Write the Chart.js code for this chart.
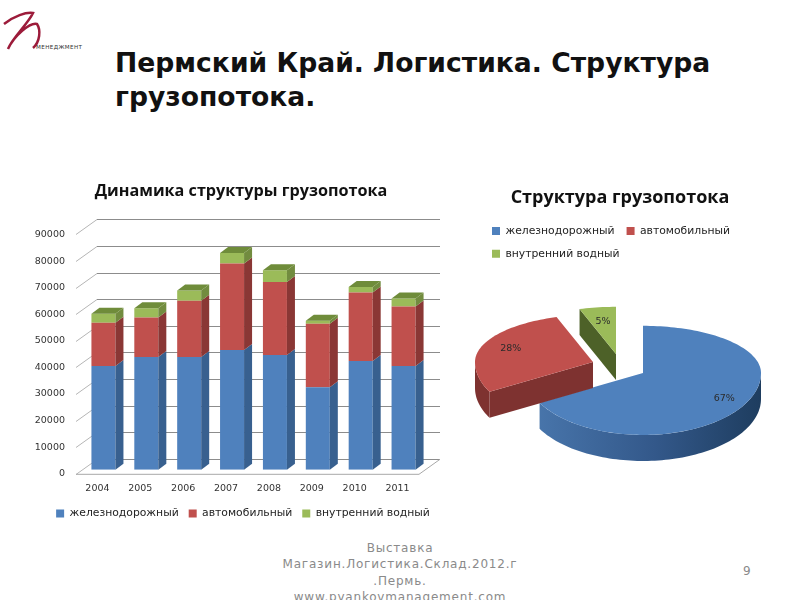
<!DOCTYPE html>
<html lang="ru">
<head>
<meta charset="utf-8">
<title>Пермский Край. Логистика</title>
<script src="https://cdn.jsdelivr.net/npm/chart.js@4"></script>
<style>
    html, body { margin: 0; padding: 0; background: #fff; }
    body { position: relative; width: 800px; height: 600px; overflow: hidden; font-family: 'DejaVu Sans', sans-serif; }
    h1 { position: absolute; left: 115px; top: 46px; margin: 0; font-size: 26.6px; line-height: 34px; font-weight: bold; color: #111; white-space: nowrap; }
    #logo { position: absolute; left: 0; top: 0; }
    #footer { position: absolute; left: 250px; width: 300px; top: 540px; text-align: center; font-size: 12px; line-height: 16.3px; color: #8a8a8a; letter-spacing: 0.8px; }
    #pageNo { position: absolute; left: 743px; top: 564px; font-size: 12px; color: #8a8a8a; }
    #barBox { position: absolute; left: 0; top: 170px; width: 482px; height: 356px; }
    #pieBox { position: absolute; left: 470px; top: 170px; width: 300px; height: 300px; }
</style>
</head>
<body>
<svg id="logo" width="90" height="60">
    <path d="M4 24 C14 16 26 12 33 13 C28 24 12 38 8 49 C14 36 30 22 37 24 C41 30 40 42 33 48" fill="none" stroke="#9c1b3a" stroke-width="2.5"/>
    <text x="36" y="49" font-size="5.6" textLength="46" fill="#333">МЕНЕДЖМЕНТ</text>
</svg>
<h1>Пермский Край. Логистика. Структура<br>грузопотока.</h1>
<div id="barBox"><canvas id="barChart"></canvas></div>
<div id="pieBox"><canvas id="pieChart"></canvas></div>
<div id="footer">Выставка<br>Магазин.Логистика.Склад.2012.г<br>.Пермь.<br>www.pyankovmanagement.com</div>
<div id="pageNo">9</div>
<script>
const years = ['2004', '2005', '2006', '2007', '2008', '2009', '2010', '2011'];
const railValues = [39000, 42400, 42400, 45000, 43200, 31000, 40900, 39000];
const roadValues = [16300, 14900, 21200, 32600, 27400, 23900, 25800, 22400];
const waterValues = [3400, 3400, 3800, 3900, 4400, 1100, 2000, 3000];
const modeNames = ['железнодорожный', 'автомобильный', 'внутренний водный'];
const pieValues = [67, 28, 5];

const frontColors = ['#4F81BD', '#C0504D', '#9BBB59'];
const sideColors = ['#38608F', '#8A3735', '#728C3F'];
const topColors = ['#4F81BD', '#C0504D', '#6F8C3A'];

const chartFont = "'DejaVu Sans', sans-serif";
const titleFont = "'Open Sans', sans-serif";

// --- fake 3D for the stacked bars ---
const wall3d = {
    id: 'wall3d',
    // title and legend centre on the whole canvas, not on the padded area
    afterLayout(chart) {
        chart.titleBlock.left = 0;
        chart.titleBlock.right = chart.width;
        chart.legend.left = 0;
        chart.legend.right = chart.width + 4;
        chart.legend.top += 3;
        chart.legend.bottom += 3;
    },
    beforeDatasetsDraw(chart) {
        const { ctx, chartArea, scales } = chart;
        const wallX = 21, wallY = -15;
        ctx.save();
        ctx.lineWidth = 1;
        scales.y.ticks.forEach(t => {
            const y = Math.round(scales.y.getPixelForValue(t.value)) + 0.5;
            ctx.strokeStyle = '#b5b5b5';
            ctx.beginPath();
            ctx.moveTo(chartArea.left, y);
            ctx.lineTo(chartArea.left + wallX, y + wallY);
            ctx.stroke();
            ctx.strokeStyle = '#8c8c8c';
            ctx.beginPath();
            ctx.moveTo(chartArea.left + wallX, y + wallY);
            ctx.lineTo(chartArea.right + wallX, y + wallY);
            ctx.stroke();
        });
        // floor
        ctx.strokeStyle = '#a8a8a8';
        ctx.beginPath();
        ctx.moveTo(chartArea.left, chartArea.bottom + 0.5);
        ctx.lineTo(chartArea.right, chartArea.bottom + 0.5);
        ctx.lineTo(chartArea.right + wallX, chartArea.bottom + wallY + 0.5);
        ctx.stroke();
        ctx.restore();

        // bars sit a little behind the front edge of the floor
        ctx.save();
        ctx.translate(6, -4);
    },
    afterDatasetsDraw(chart) {
        const { ctx } = chart;
        const depthX = 8, depthY = -6;
        chart.data.datasets.forEach((ds, i) => {
            chart.getDatasetMeta(i).data.forEach(bar => {
                const right = bar.x + bar.width / 2;
                const left = bar.x - bar.width / 2;
                ctx.fillStyle = sideColors[i];
                ctx.beginPath();
                ctx.moveTo(right, bar.y);
                ctx.lineTo(right + depthX, bar.y + depthY);
                ctx.lineTo(right + depthX, bar.base + depthY);
                ctx.lineTo(right, bar.base);
                ctx.fill();
                if (i === chart.data.datasets.length - 1) {
                    ctx.fillStyle = topColors[i];
                    ctx.beginPath();
                    ctx.moveTo(left, bar.y);
                    ctx.lineTo(left + depthX, bar.y + depthY);
                    ctx.lineTo(right + depthX, bar.y + depthY);
                    ctx.lineTo(right, bar.y);
                    ctx.fill();
                }
            });
        });
        ctx.restore();
    }
};

new Chart(document.getElementById('barChart'), {
    type: 'bar',
    plugins: [wall3d],
    data: {
        labels: years,
        datasets: [
            { label: modeNames[0], data: railValues, backgroundColor: frontColors[0] },
            { label: modeNames[1], data: roadValues, backgroundColor: frontColors[1] },
            { label: modeNames[2], data: waterValues, backgroundColor: frontColors[2] }
        ]
    },
    options: {
        responsive: true,
        maintainAspectRatio: false,
        animation: false,
        barPercentage: 0.56,
        categoryPercentage: 1,
        layout: { padding: { right: 63 } },
        plugins: {
            title: {
                display: true,
                text: 'Динамика структуры грузопотока',
                color: '#111',
                font: { family: titleFont, size: 16.2, weight: 'bold' },
                padding: { top: 12, bottom: 33 }
            },
            legend: {
                position: 'bottom',
                labels: { color: '#222', boxWidth: 8, boxHeight: 8, padding: 10, font: { family: chartFont, size: 10.8 } }
            },
            tooltip: { enabled: false }
        },
        scales: {
            x: {
                stacked: true,
                grid: { display: false },
                border: { display: false },
                ticks: { color: '#333', padding: 1, font: { family: chartFont, size: 9.5 } }
            },
            y: {
                stacked: true,
                min: 0,
                max: 90000,
                afterFit: scale => { scale.width = 76; },
                grid: { display: false },
                border: { display: false },
                ticks: { stepSize: 10000, color: '#333', padding: 3, callback: v => v, font: { family: chartFont, size: 9.5 } }
            }
        }
    }
});

// --- tilted exploded pie ---
const pieApex = [[173, 203], [123, 192], [146, 184]];  // apex of each slice inside the canvas
const pieDepth = 26;
const pieSide = ['#3B6494', '#7E3230', '#4D6128'];
const pieTop = ['#4F81BD', '#C0504D', '#9BBB59'];
const labelReach = [0.8, 0.75, 0.7];

function tilted(apex, angle, r) {
    // chart.js angles start from 3 o'clock, back half of the disc is squashed more
    const s = Math.sin(angle);
    return [apex[0] + Math.cos(angle) * r, apex[1] + s * r * (s < 0 ? 0.4 : 0.525)];
}

function arcPoints(apex, from, to, r) {
    const pts = [];
    const n = Math.max(2, Math.ceil(Math.abs(to - from) / 0.03));
    for (let k = 0; k <= n; k++) pts.push(tilted(apex, from + (to - from) * k / n, r));
    return pts;
}

function fillPoly(ctx, pts, style) {
    ctx.fillStyle = style;
    ctx.beginPath();
    pts.forEach((p, k) => (k ? ctx.lineTo(p[0], p[1]) : ctx.moveTo(p[0], p[1])));
    ctx.closePath();
    ctx.fill();
}

const pie3d = {
    id: 'pie3d',
    beforeDatasetsDraw(chart) {
        const { ctx } = chart;
        chart.getDatasetMeta(0).data.forEach((arc, i) => {
            const apex = pieApex[i];
            const r = arc.outerRadius;
            const start = arc.startAngle, end = arc.endAngle;

            // cut face on the clockwise end of the slice
            const endPt = tilted(apex, start, r);
            if (i > 0) {
                fillPoly(ctx, [apex, endPt, [endPt[0], endPt[1] + pieDepth], [apex[0], apex[1] + pieDepth]], pieSide[i]);
            }

            // curved rim, only the part facing the viewer
            const a = Math.max(start, 0), b = Math.min(end, Math.PI);
            if (b > a) {
                const rim = arcPoints(apex, a, b, r);
                const low = rim.slice().reverse().map(p => [p[0], p[1] + pieDepth]);
                let style = pieSide[i];
                if (i === 0) {
                    const g = ctx.createLinearGradient(apex[0] + r, 0, apex[0] - r, 0);
                    g.addColorStop(0, '#1E3D5F');
                    g.addColorStop(0.45, '#33588A');
                    g.addColorStop(1, '#4A78AE');
                    style = g;
                }
                fillPoly(ctx, rim.concat(low), style);
            }
            fillPoly(ctx, [apex].concat(arcPoints(apex, start, end, r)), pieTop[i]);

            // value label
            const p = tilted(apex, (start + end) / 2, r * labelReach[i]);
            ctx.fillStyle = '#2b2b2b';
            ctx.font = "9.5px " + chartFont;
            ctx.textAlign = 'center';
            ctx.textBaseline = 'middle';
            ctx.fillText(pieValues[i] + '%', p[0], p[1]);
        });
        return false;
    }
};

new Chart(document.getElementById('pieChart'), {
    type: 'pie',
    plugins: [pie3d],
    data: {
        labels: modeNames,
        datasets: [{ data: pieValues, backgroundColor: frontColors, borderWidth: 0, radius: 118 }]
    },
    options: {
        responsive: true,
        maintainAspectRatio: false,
        animation: false,
        layout: { padding: { left: 10, right: 10 } },
        plugins: {
            title: {
                display: true,
                text: 'Структура грузопотока',
                color: '#111',
                font: { family: titleFont, size: 18, weight: 'bold' },
                padding: { top: 17, bottom: 5 }
            },
            legend: {
                position: 'top',
                align: 'start',
                labels: { color: '#222', boxWidth: 8, boxHeight: 8, padding: 12, font: { family: chartFont, size: 10.8 } }
            },
            tooltip: { enabled: false }
        }
    }
});
</script>
</body>
</html>
